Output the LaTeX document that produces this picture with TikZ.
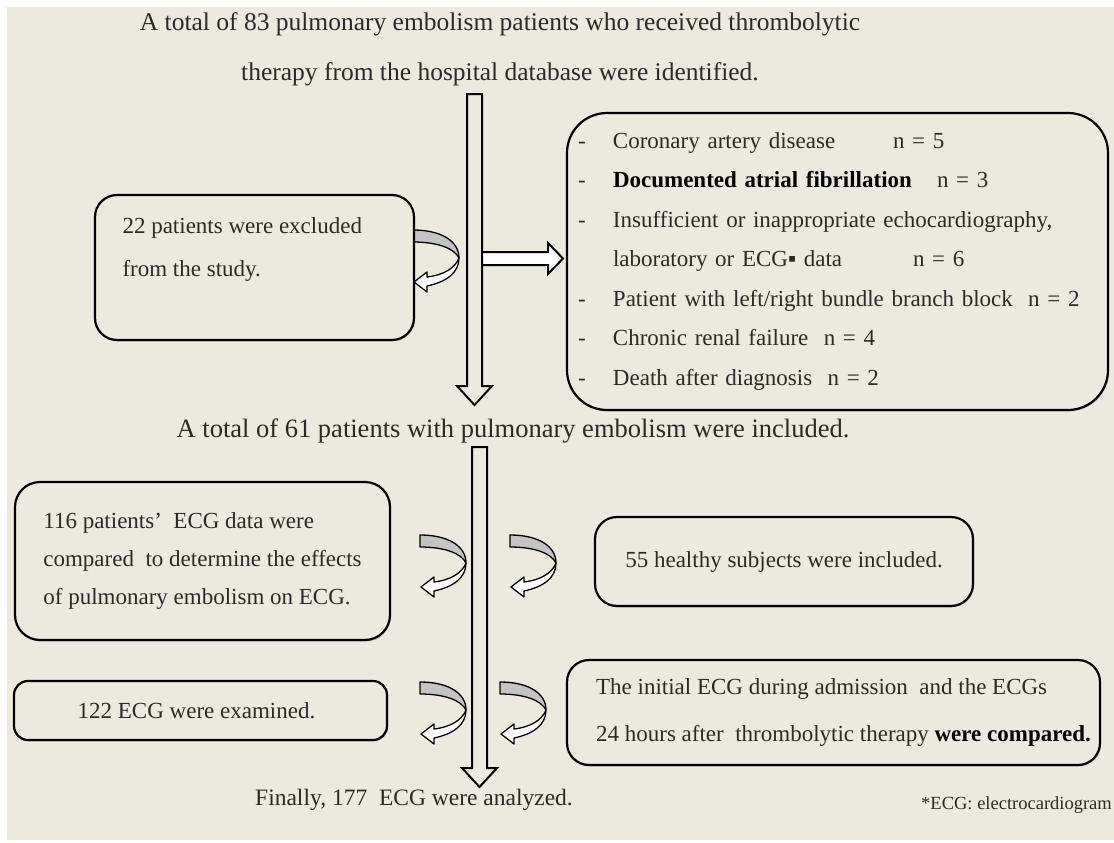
\documentclass[tikz,border=0pt]{standalone}
\usepackage{fontspec}
\setmainfont{Liberation Serif}
\usetikzlibrary{positioning, shadows}

\newcommand{\itemdash}{\makebox[35pt][l]{-}}

\begin{document}
\begin{tikzpicture}[
    x=1pt, y=-1pt,
    every node/.style={text=ink, font=\fontsize{23}{38}\selectfont},
    box/.style={draw=black, fill=bg, line width=2.2pt, rounded corners=22pt,
        align=left, inner sep=0pt,
        drop shadow={shadow xshift=1pt, shadow yshift=-1.5pt, fill=black!40}},
    hollow/.style={draw=black, line width=2pt, line join=miter},
    uturn/.pic={
        \filldraw[fill=turngray, line width=1.3pt, line join=round]
            (0,0) .. controls (28,0) and (46,11) .. (46,28)
            .. controls (41,18) and (24,12) .. (0,12) -- cycle;
        \filldraw[fill=white, line width=1.3pt, line join=round]
            (46,28) .. controls (46,43) and (33,52) .. (14,56)
            -- (14,62) -- (1,52) -- (14,42) -- (14,47)
            .. controls (31,45) and (42,38) .. (46,28) -- cycle;
    },
]

\definecolor{bg}{HTML}{ECEADF}        % the slide
\definecolor{ink}{HTML}{2A2A2A}       % all plain text
\definecolor{turngray}{HTML}{C4C4C4}  % back side of the curled arrows

\useasboundingbox (0,0) rectangle (1114,843);
\fill[white] (0,0) rectangle (1114,843);
\fill[bg] (7,7) rectangle (1114,840);

% ---------------------------------------------------------------- block arrows
\foreach \xl/\ytop/\yb/\ytip in {467/94/386/405, 472/447/768/787} {
  \draw[hollow, fill=bg] (\xl,\ytop) -- (\xl+15,\ytop) -- (\xl+15,\yb)
      -- (\xl+25,\yb) -- (\xl+7.5,\ytip) -- (\xl-10,\yb) -- (\xl,\yb) -- cycle;
}
\draw[hollow, fill=white] (482,252) -- (548,252) -- (548,243) -- (563,258.5)
    -- (548,274) -- (548,265) -- (482,265) -- cycle;

% ---------------------------------------------------------------- curled arrows
\foreach \px/\py in {413/230, 420/535, 510/535, 420/682, 500/682}
  \pic at (\px,\py) {uturn};

% ---------------------------------------------------------------- main line
\node[font=\fontsize{25.5}{50}\selectfont, align=center] (start) at (500,49)
    {A total of 83 pulmonary embolism patients who received thrombolytic\\
     therapy from the hospital database were identified.};
\node[font=\fontsize{26.5}{30}\selectfont] (incl) at (513,431)
    {A total of 61 patients with pulmonary embolism were included.};
\node[font=\fontsize{23.5}{30}\selectfont] (final) at (414,800)
    {Finally, 177 \ ECG were analyzed.};
\node[font=\fontsize{18.5}{20}\selectfont, anchor=east, inner sep=0pt] (note)
    at (1112,805) {*ECG: electrocardiogram};

% ---------------------------------------------------------------- exclusions
\node[box, minimum width=319pt, minimum height=145pt] (excl) at (254.5,267.5) {};
\node[align=left, anchor=west, font=\fontsize{23}{43}\selectfont] (exclT)
    at (119,249.5) {22 patients were excluded\\from the study.};

\node[box, rounded corners=40pt, minimum width=541pt, minimum height=297pt,
      text width=519pt, inner xsep=11pt, font=\fontsize{23}{39.5}\selectfont]
    (why) at (837.5,261.5) {%
  \itemdash\makebox[280pt][l]{Coronary artery disease}n = 5\\
  \itemdash\makebox[324pt][l]{\textbf{\color{black}Documented atrial fibrillation}}n = 3\\
  \itemdash Insufficient or inappropriate echocardiography,\\
  \hspace*{35pt}\makebox[300pt][l]{laboratory or ECG▪ data}n = 6\\
  \itemdash Patient with left/right bundle branch block \ n = 2\\
  \itemdash Chronic renal failure \ n = 4\\
  \itemdash Death after diagnosis \ n = 2};

% ---------------------------------------------------------------- ECG part
\node[box, rounded corners=25pt, minimum width=375pt, minimum height=158pt]
    (ecg) at (202.5,561)
    {116 patients’ \ ECG data were\\compared \ to determine the effects\\
     of pulmonary embolism on ECG.};
\node[box, minimum width=378pt, minimum height=89pt] (hlth) at (784,561.5)
    {55 healthy subjects were included.};
\node[box, rounded corners=14pt, minimum width=373pt, minimum height=59pt]
    (exam) at (200.5,710.5) {\hspace*{-8pt}122 ECG were examined.};
\node[box, minimum width=533pt, minimum height=105pt,
      font=\fontsize{23}{47}\selectfont] (pair) at (833.5,712.5)
    {\hspace*{20pt}The initial ECG during admission \ and the ECGs\\
     \hspace*{20pt}24 hours after \ thrombolytic therapy
     \textbf{\color{black}were compared.}};

\end{tikzpicture}
\end{document}
